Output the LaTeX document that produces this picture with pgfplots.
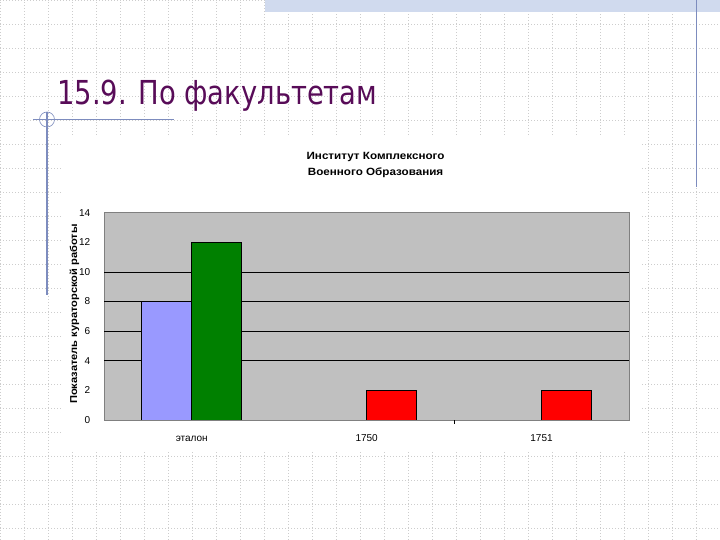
\documentclass[border=0pt]{standalone}
\usepackage{pgfplots}
\pgfplotsset{compat=1.18}
\usepackage{fontspec}
\setmainfont{Liberation Sans}
\newfontfamily\slidefont{DejaVu Sans}
\newfontfamily\chartfont[FakeStretch=1.11]{Liberation Sans}

\definecolor{slidegrid}{RGB}{205,205,205}
\definecolor{slideline}{RGB}{125,140,190}
\definecolor{slideband}{RGB}{208,218,238}
\definecolor{titlepurple}{RGB}{88,12,88}
\definecolor{plotgray}{RGB}{192,192,192}
\definecolor{framegray}{RGB}{128,128,128}
\definecolor{barblue}{RGB}{153,153,255}
\definecolor{bargreen}{RGB}{0,128,0}
\definecolor{barred}{RGB}{255,0,0}

\begin{document}
\begin{tikzpicture}
% slide background: dotted grid, 24px cells
\begin{scope}[x=1pt,y=1pt]
  \fill[white] (0,0) rectangle (720,540);
  \foreach \i in {0,24,...,720}
    \draw[slidegrid, line width=0.5pt, dash pattern=on 1pt off 2pt] (\i,0) -- (\i,540);
  \foreach \j in {0,24,...,528}
    \draw[slidegrid, line width=0.5pt, dash pattern=on 1pt off 2pt] (0,540-\j) -- (720,540-\j);
  % chart area
  \fill[white] (63,90) rectangle (642,404);
  % top band
  \fill[slideband] (265,528) rectangle (720,540);
\end{scope}

\begin{axis}[
    at={(104.3pt,120pt)}, anchor=south west,
    scale only axis,
    width=524.7pt, height=207.3pt,
    xmin=-0.5, xmax=2.5,
    ymin=0, ymax=14,
    axis background/.style={fill=plotgray},
    axis line style={draw=framegray, line width=0.9pt},
    tick pos=left,
    major tick length=0pt,
    xtick={0,1,2},
    xticklabels={эталон,1750,1751},
    ytick={0,2,...,14},
    extra y ticks={4,6,8,10},
    extra y tick labels={},
    extra y tick style={grid=major, major grid style={black, line width=0.8pt}},
    extra x ticks={1.5},
    extra x tick labels={},
    extra x tick style={major tick length=4pt, tick align=outside,
        tick style={black, line width=0.6pt}},
    /pgf/number format/assume math mode=true,
    ticklabel style={font=\fontsize{10}{12}\selectfont},
    yticklabel style={xshift=-10.5pt},
    xticklabel style={text height=7pt, text depth=2pt, yshift=-10.7pt},
    title={Институт Комплексного\\Военного Образования},
    title style={at={(axis description cs:0.517,1.201)}, anchor=center,
        align=center, font=\chartfont\bfseries\fontsize{10.5}{16.5}\selectfont},
    ylabel={Показатель кураторской работы},
    ylabel style={at={(axis description cs:-0.0570,0.511)}, anchor=center,
        font=\chartfont\bfseries\fontsize{10}{12}\selectfont},
]
\addplot[ybar, bar width=50pt, bar shift=-25pt, fill=barblue, draw=black, line width=0.6pt]
    coordinates {(0,8)};
\addplot[ybar, bar width=50pt, bar shift=25pt, fill=bargreen, draw=black, line width=0.6pt]
    coordinates {(0,12)};
\addplot[ybar, bar width=50pt, bar shift=25pt, fill=barred, draw=black, line width=0.6pt]
    coordinates {(1,2) (2,2)};
\end{axis}

% slide decorations and heading
\begin{scope}[x=1pt,y=1pt]
  \draw[slideline, line width=1.2pt] (696.5,540) -- (696.5,353);
  \draw[slideline, line width=1.2pt] (47,428) -- (47,245);
  \draw[slideline, line width=1.2pt] (33,420.5) -- (174,420.5);
  \draw[slideline, line width=0.6pt] (47,420.5) circle (7.5);
  \node[anchor=base west, inner sep=0pt, text=titlepurple] at (57,435)
    {\scalebox{0.83}[1]{\slidefont\fontsize{33}{38}\selectfont 15.9. По факультетам}};
\end{scope}
\pgfresetboundingbox
\path[use as bounding box] (0,0) rectangle (720pt,540pt);
\end{tikzpicture}
\end{document}
